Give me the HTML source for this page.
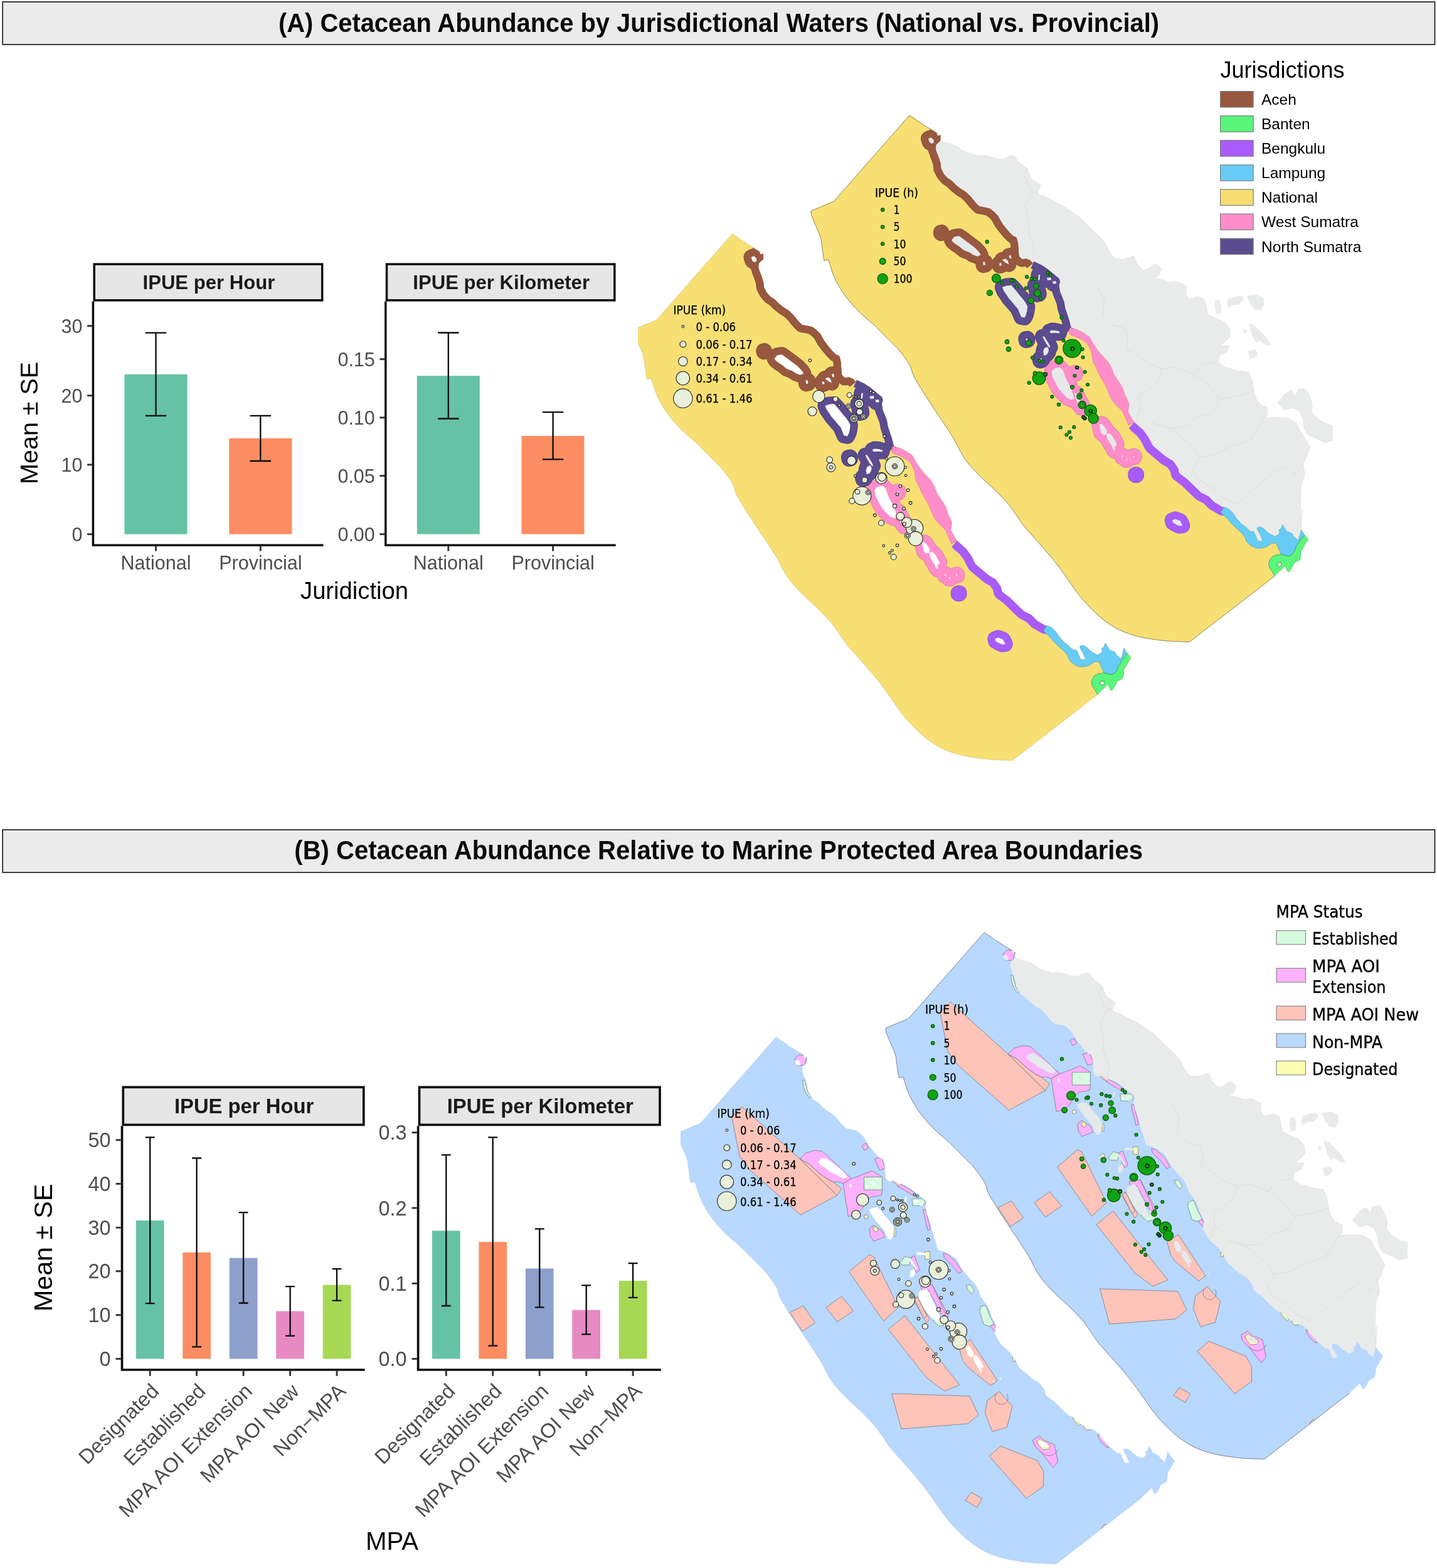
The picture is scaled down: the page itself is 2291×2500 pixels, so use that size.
<!DOCTYPE html>
<html lang="en"><head><meta charset="utf-8"><title>Cetacean Abundance</title>
<style>html,body{margin:0;padding:0;background:#fff}svg{display:block}text{white-space:pre}</style></head><body>
<svg xmlns="http://www.w3.org/2000/svg" width="2291" height="2500" viewBox="0 0 2291 2500">
<rect width="2291" height="2500" fill="#fff"/>
<rect x="4.2" y="3" width="2283.3" height="68" fill="#ebebeb" stroke="#111" stroke-width="1.6"/>
<text x="444" y="50.7" font-size="43" text-anchor="start" font-weight="bold" fill="#0a0a0a" font-family='"Liberation Sans", Arial, Helvetica, sans-serif' textLength="1404" lengthAdjust="spacingAndGlyphs">(A) Cetacean Abundance by Jurisdictional Waters (National vs. Provincial)</text>
<rect x="4.2" y="1323" width="2283.3" height="68" fill="#ebebeb" stroke="#111" stroke-width="1.6"/>
<text x="469.3" y="1369.7" font-size="43" text-anchor="start" font-weight="bold" fill="#0a0a0a" font-family='"Liberation Sans", Arial, Helvetica, sans-serif' textLength="1352.7" lengthAdjust="spacingAndGlyphs">(B) Cetacean Abundance Relative to Marine Protected Area Boundaries</text>
<defs>
<path id="sea" d="M1450 183.8L1329.4 321L1293 336.2L1293.6 343.4L1299.5 357.7L1306 372L1309.2 382.4L1311.2 398L1313.8 415.5L1320.9 414.2L1322.9 421.4C1323.8 424 1326.1 431.9 1328.1 436.9C1330 441.9 1332.2 446.6 1334.6 451.2C1337 455.8 1339.4 459.6 1342.4 464.2C1345.4 468.8 1349.3 474.2 1352.8 478.5C1356.3 482.8 1359.7 486.5 1363.2 490.2C1366.7 493.9 1370.1 497.4 1373.6 500.6C1377 503.9 1380.5 506.7 1383.9 509.7C1387.4 512.7 1390.8 515.5 1394.3 518.8C1397.8 522 1401.2 525.7 1404.7 529.2C1408.2 532.7 1411.6 536.1 1415.1 539.6C1418.6 543.1 1422.2 546.6 1425.5 550C1428.8 553.4 1430.4 554.6 1434.6 560C1438.8 565.4 1446.8 575.6 1450.5 582.3C1454.2 589 1453.2 592.7 1456.9 600C1460.6 607.3 1466.7 616.7 1472.5 626C1478.3 635.3 1485.7 646.4 1492 655.9C1498.3 665.4 1505 675.2 1510.2 683.2C1515.4 691.2 1519.7 698 1523.2 704C1526.7 710 1527.8 713.9 1531 719.5C1534.2 725.1 1538.4 732.1 1542.7 737.7C1547 743.3 1552.4 748.5 1556.9 753.3C1561.4 758.1 1565.6 762.2 1569.9 766.3C1574.2 770.4 1578.6 773.9 1582.9 778C1587.2 782.1 1591.6 786.5 1595.9 791C1600.2 795.5 1604.6 799.9 1608.9 805.3C1613.2 810.7 1617.8 817.7 1621.9 823.5C1626 829.3 1628.2 833.4 1633.6 840C1639 846.6 1647.5 855.7 1654.1 863.2C1660.7 870.7 1667.2 877.9 1673.1 884.9C1679 891.9 1683.9 898 1689.3 905.2C1694.7 912.4 1700.6 921.2 1705.6 928.2C1710.6 935.2 1714.1 940.8 1719.1 947.1C1724.1 953.4 1729.1 959.6 1735.4 966.1C1741.7 972.6 1748.9 980.1 1757 986.4C1765.1 992.7 1774.2 999.2 1784.1 1004C1794 1008.8 1804.4 1012.4 1816.6 1015.3C1828.8 1018.2 1843.9 1020.2 1857.2 1021.6C1870.5 1023 1889.9 1023.2 1896.4 1023.5L2032.3 918.4L2040.1 910.6L2043 908.6L2046 904.7L2048.9 902.8L2050.8 906.7L2052.8 911.6L2055.7 911.6L2059.6 905.7L2062.5 899.9L2065.5 896L2069.4 895L2072.8 892.1L2074.2 886.2L2074.2 879.4L2078.1 872.6L2082 865.8L2085.9 859.4L2080.1 853.1L2074.2 843.8L2072.8 850.2L2071.3 856L2069.4 860.9L2066.4 858L2062.5 855L2060.6 851.1L2055.7 848.2L2051.8 847.2L2048.9 842.4L2046 837.5L2044 836.5L2042.1 842.4L2038.2 845.3L2040.1 848.2L2038.2 852.1L2032.3 855L2026.5 852.1L2020.6 848.2L2015.8 843.3L2011.9 840.4L2007 839.4L2003.6 841.4L2005 846.3L2008 851.1L2010.9 857L2012.8 861.9L2008 862.8L2005 860.9L2002.1 854.1L1999.2 847.2L1994.3 847.2L1990.4 844.3L1984.6 838.5L1978.7 834.6L1973.9 828.7L1970 823.9L1966.1 818L1960.2 812.2L1955.3 809.2L1951 808.3L1951 808.3L1949.5 808.7L1936.2 801.1L1926.8 791.6L1915.4 785.9L1909.1 780L1892.9 764.2L1879.9 754.5L1878.2 746.4L1870.1 735L1858.8 728.5L1847.4 718.8L1837.6 710.6L1831.1 697.6L1823 686.3L1808.4 673.3L1808.4 673.3L1803.5 665.2L1798.7 656.2L1799.5 650.5L1800.3 644L1797.8 637.5L1793.5 629.4L1791.3 621.3L1787.3 613.2L1782.7 606.7L1776.2 596.9L1772.7 587.2L1767.5 577.5L1758.9 568.5L1749.9 558L1743.4 548.2L1736.9 536.8L1727.2 530.3L1717.5 525.2L1706.1 522.6L1709.4 525.1L1707 520.2L1704.6 510.4L1701.3 500.7L1698.1 491L1696.4 481.2L1693.2 473.1L1689.9 465L1688.3 455.2L1689.9 448.7L1688.3 443.9L1680.2 437.4L1670.4 429.2L1660.7 422.7L1648.5 417.1L1646.6 419.9L1642.5 415L1636 412.6L1629.5 413.4L1624.6 408.5L1623.8 398.8L1623 387.4L1620.6 378.5L1614.9 376L1608.4 369.5L1601.9 361.4L1597 354.9L1590.5 343.5L1584 337L1577.5 332.2L1569.4 330.5L1561.3 328.9L1554.8 322.4L1548.3 314.3L1540.2 306.2L1532.1 301.3L1523.9 294.8L1517.5 288.3L1510.1 283.4L1504.5 276.9L1500.4 268.8L1499.6 260.7L1497.1 252.6L1493.9 244.5L1491.5 237.1L1492.3 230.7L1499.1 224.2L1499.6 216L1473.6 199.8Z"/>
<clipPath id="seac"><use href="#sea"/></clipPath>
<g id="land"><path d="M1499.1 224.2 1504.5 226.6 1514.2 229 1525.6 233.1 1536.9 241.2 1548.3 245.3 1558.1 248.5 1571 247.7 1582.4 251 1590.5 253.4 1600.3 253.4 1608.4 249.3 1615.7 247.7 1619.8 252.6 1624.6 259.1 1631.1 263.9 1637.6 268.8 1640.9 276.9 1644.1 285.1 1650.6 289.9 1658.8 294.8 1657.1 301.3 1653.9 306.2 1657.1 311 1665.2 312.7 1673.4 317.5 1683.1 322.4 1692.9 327.3 1702.6 333.8 1712.4 340.3 1720 345.2 1750 374.4 1760.8 385.2 1768.9 401.4 1777.1 412.3 1790.6 413.6 1798.7 410.9 1808.2 408.2 1812.3 420.4 1823.1 431.2 1831.2 428.5 1842 420.4 1851.5 428.5 1847.5 439.3 1839.3 443.4 1852.9 446.1 1863.7 450.2 1877.2 448.8 1890.8 455.6 1890.8 469.1 1896.2 477.2 1909.7 473.2 1920.5 477.2 1923.3 490.8 1926 501.6 1936.8 507 1950.3 512.4 1959.8 523.3 1961.2 536.8 1953 544.9 1944.9 550.3 1959.8 551.7 1955.7 561.2 1944.9 566.6 1942.2 577.4 1953 585.5 1972 590.9 1990.9 593.6 1996.3 607.2 1999.1 623.4 2003.1 637 2009.9 645.1 2020.7 650.5 2020.7 661.3 2015.3 666.7 2034.2 665.4 2053.2 666.7 2066.7 674.9 2072.1 685.7 2080.3 699.2 2088.4 712.8 2083 729 2077.6 739.8 2080.3 756.1 2074.9 772.3 2073.5 794 2073.5 815.6 2073.5 837.3 2076.2 812.2 2075.2 826.8 2074.2 843.8 2074.2 843.8 2072.8 850.2 2071.3 856 2069.4 860.9 2066.4 858 2062.5 855 2060.6 851.1 2055.7 848.2 2051.8 847.2 2048.9 842.4 2046 837.5 2044 836.5 2042.1 842.4 2038.2 845.3 2040.1 848.2 2038.2 852.1 2032.3 855 2026.5 852.1 2020.6 848.2 2015.8 843.3 2011.9 840.4 2007 839.4 2003.6 841.4 2005 846.3 2008 851.1 2010.9 857 2012.8 861.9 2008 862.8 2005 860.9 2002.1 854.1 1999.2 847.2 1994.3 847.2 1990.4 844.3 1984.6 838.5 1978.7 834.6 1973.9 828.7 1970 823.9 1966.1 818 1960.2 812.2 1955.3 809.2 1951 808.3 1951 808.3 1949.5 808.7 1936.2 801.1 1926.8 791.6 1915.4 785.9 1909.1 780 1892.9 764.2 1879.9 754.5 1878.2 746.4 1870.1 735 1858.8 728.5 1847.4 718.8 1837.6 710.6 1831.1 697.6 1823 686.3 1808.4 673.3 1808.4 673.3 1803.5 665.2 1798.7 656.2 1799.5 650.5 1800.3 644 1797.8 637.5 1793.5 629.4 1791.3 621.3 1787.3 613.2 1782.7 606.7 1776.2 596.9 1772.7 587.2 1767.5 577.5 1758.9 568.5 1749.9 558 1743.4 548.2 1736.9 536.8 1727.2 530.3 1717.5 525.2 1706.1 522.6 1709.4 525.1 1707 520.2 1704.6 510.4 1701.3 500.7 1698.1 491 1696.4 481.2 1693.2 473.1 1689.9 465 1688.3 455.2 1689.9 448.7 1688.3 443.9 1680.2 437.4 1670.4 429.2 1660.7 422.7 1648.5 417.1 1646.6 419.9 1642.5 415 1636 412.6 1629.5 413.4 1624.6 408.5 1623.8 398.8 1623 387.4 1620.6 378.5 1614.9 376 1608.4 369.5 1601.9 361.4 1597 354.9 1590.5 343.5 1584 337 1577.5 332.2 1569.4 330.5 1561.3 328.9 1554.8 322.4 1548.3 314.3 1540.2 306.2 1532.1 301.3 1523.9 294.8 1517.5 288.3 1510.1 283.4 1504.5 276.9 1500.4 268.8 1499.6 260.7 1497.1 252.6 1493.9 244.5 1491.5 237.1 1492.3 230.7 1499.1 224.2Z" fill="#e9ebea"/>
<path d="M2037 642.4 2047.8 628.8 2058.6 622.1 2065.4 631.5 2069.4 620.7 2080.3 619.4 2088.4 631.5 2092.4 645.1 2091.1 655.9 2099.2 666.7 2112.8 674.9 2124.9 678.9 2123.6 693.8 2124.9 701.9 2112.8 706 2099.2 699.2 2085.7 693.8 2078.9 683 2077.6 669.4 2072.1 655.9 2061.3 650.5 2047.8 653.2Z" fill="#e9ebea" stroke="#dcdedd" stroke-width="0.6"/>
<path d="M1936.8 479.9 1943.6 477.2 1947.6 488.1 1946.3 498.9 1939.5 501.6 1936.8 490.8Z M1957.1 477.2 1966.6 473.2 1980.1 471.8 1982.8 478.6 1974.7 485.4 1963.9 486.7 1958.4 490.8 1955.7 485.4Z M1988.2 471.8 2001.8 469.1 2013.9 474.5 2015.3 485.4 2009.9 494.8 2000.4 493.5 1993.6 485.4Z M1990.9 515.1 1999.1 517.8 2009.9 528.7 2020.7 539.5 2026.1 551.7 2018 550.3 2007.2 542.2 2004.5 547.6 1997.7 539.5 1993.6 526Z M1989.6 559.8 2001.8 557.1 2005.8 563.9 2000.4 570.6 1992.3 572Z M1981.5 523.3 1988.2 526 1986.9 531.4 1982.8 530Z" fill="#e9ebea"/>
<path d="M1637.6 268.8 1632.8 280.2 1637.6 289.9 1640.9 299.7 1647.4 306.2 1653.9 306.2 M1647.4 306.2 1640.9 315.9 1634.4 328.9 1637.6 341.9 1640.9 354.9 1639.3 369.5 1644.1 384.1 1649 395.5 1646.6 410.1 1646.6 419.9 M1750 458.3 1760.8 477.2 1758.1 501.6 1771.7 517.8 1793.3 523.3 1798.7 539.5 1796 555.7 1815 566.6 1831.2 580.1 1852.9 588.2 1874.5 585.5 1901.6 596.3 1917.8 580.1 1939.5 577.4 M1852.9 588.2 1847.5 607.2 1831.2 620.7 1815 631.5 1817.7 650.5 1812.3 669.4 1804.1 677.6 M1817.7 650.5 1839.3 674.9 1866.4 683 1885.4 699.2 1901.6 712.8 1912.4 729 1901.6 747.9 1907 761.5 1923.3 772.3 1939.5 783.1 1950.3 794 M1901.6 596.3 1923.3 609.9 1944.9 637 1972 631.5 1999.1 623.4 M1944.9 637 1931.4 658.6 1909.7 664 1890.8 680.3 1866.4 683 M1912.4 729 1939.5 723.6 1966.6 710 1993.6 701.9 2015.3 666.7 M1950.3 794 1972 804.8 1993.6 783.1 2020.7 761.5 2047.8 742.5 2064 756.1 2077.6 739.8" fill="none" stroke="#d9dbda" stroke-width="0.9" stroke-linejoin="round"/>
<path d="M1499.1 224.2 1504.5 226.6 1514.2 229 1525.6 233.1 1536.9 241.2 1548.3 245.3 1558.1 248.5 1571 247.7 1582.4 251 1590.5 253.4 1600.3 253.4 1608.4 249.3 1615.7 247.7 1619.8 252.6 1624.6 259.1 1631.1 263.9 1637.6 268.8 1640.9 276.9 1644.1 285.1 1650.6 289.9 1658.8 294.8 1657.1 301.3 1653.9 306.2 1657.1 311 1665.2 312.7 1673.4 317.5 1683.1 322.4 1692.9 327.3 1702.6 333.8 1712.4 340.3 1720 345.2 1750 374.4 1760.8 385.2 1768.9 401.4 1777.1 412.3 1790.6 413.6 1798.7 410.9 1808.2 408.2 1812.3 420.4 1823.1 431.2 1831.2 428.5 1842 420.4 1851.5 428.5 1847.5 439.3 1839.3 443.4 1852.9 446.1 1863.7 450.2 1877.2 448.8 1890.8 455.6 1890.8 469.1 1896.2 477.2 1909.7 473.2 1920.5 477.2 1923.3 490.8 1926 501.6 1936.8 507 1950.3 512.4 1959.8 523.3 1961.2 536.8 1953 544.9 1944.9 550.3 1959.8 551.7 1955.7 561.2 1944.9 566.6 1942.2 577.4 1953 585.5 1972 590.9 1990.9 593.6 1996.3 607.2 1999.1 623.4 2003.1 637 2009.9 645.1 2020.7 650.5 2020.7 661.3 2015.3 666.7 2034.2 665.4 2053.2 666.7 2066.7 674.9 2072.1 685.7 2080.3 699.2 2088.4 712.8 2083 729 2077.6 739.8 2080.3 756.1 2074.9 772.3 2073.5 794 2073.5 815.6 2073.5 837.3 2076.2 812.2 2075.2 826.8 2074.2 843.8" fill="none" stroke="#dfe1e0" stroke-width="0.8"/>
</g>
<path id="isl" d="M1480.1 220.9 1484.2 219.3 1488.2 222.5 1489 227.4 1485 229 1481.7 226.6Z M1493.1 212.8 1497.1 212 1498.8 215.2 1495.5 216.8Z M1517.1 382.8 1521.5 377.4 1529 376.3 1536.6 381.7 1545.3 388.2 1554 394.7 1560.4 401.2 1563.7 406.6 1558.3 408.8 1551.8 406.6 1545.3 402.3 1536.6 399.1 1530.1 393.6 1523.6 389.3 1519.3 386.1Z M1567 417.4 1570.2 417.4 1571 422.3 1567.8 423.1Z M1593 419.9 1596.2 419.1 1597 423.1 1593.8 423.9Z M1597.8 414.2 1603.5 412.6 1606.8 415.8 1608.4 421.5 1605.2 419.9 1601.1 417.4Z M1608.4 407.7 1611.7 406.9 1612.5 411.7 1610 412.6Z M1598 458.1 1604.8 455.5 1612.4 455.1 1617 460.1 1621.5 465.4 1626.1 471.4 1631.4 477.5 1635.1 482.8 1638.2 488.4 1637.4 495.7 1635.9 501.8 1633.6 506.6 1628.3 505.6 1625.3 498.7 1623 492.7 1618.5 487.4 1613.9 482.1 1608.6 476 1604.1 469.2 1600.3 463.9Z M1650.1 454.4 1653.4 453.6 1654.2 457.7 1651 458.5Z M1652.6 465.8 1655.8 465 1656.6 469 1653.4 469.8Z M1655.8 438.2 1658.3 437.4 1657.5 446.3 1655 447.1Z M1668.8 443 1675.3 442.2 1676.1 446.3 1670.4 447.1Z M1677.8 448.7 1683.4 447.9 1684.2 452 1679.4 452.8Z M1673.3 528.1 1677 526.6 1683.3 527.1 1689.5 528.7 1688.9 531.2 1682 530.8 1675.2 531.2Z M1662.1 536.8 1664.6 536.2 1668.3 541.8 1672.1 548 1674.5 553.6 1672.7 554.2 1668.9 549.2 1665.2 543Z M1664.6 555.5 1669.6 553 1672.1 556.7 1671.4 561.7 1668.3 566 1664 566.7 1663.3 560.4Z M1635.5 540 1638 539.7 1638.3 542.6 1636 542.9Z M1657.5 572.2 1660.7 571.3 1661.5 574.6 1658.3 575.4Z M1676.8 592.1 1681.7 587.2 1689.8 585.6 1694.7 590.4 1698 600.2 1702.8 609.9 1707.7 619.7 1711 629.4 1712.6 635.9 1707.7 637.5 1701.2 634.3 1693.1 626.2 1686.6 618.1 1681.7 608.3 1677.7 600.2Z M1712.8 594.6 1714.7 594.4 1715 596.5 1713.1 596.8Z M1712.6 626.2 1715.8 627 1719.1 634.3 1723.9 642.4 1727.2 650.5 1723.9 650.5 1719.1 644 1715 635.9Z M1752.4 676.2 1756.7 675.6 1761.1 680.6 1764.8 686.8 1764.2 692.4 1759.9 693.7 1755.5 690.6 1753.6 683.1Z M1764.2 692.4 1768.6 690.6 1773.6 695.5 1777.3 701.8 1780.4 708 1779.8 711.7 1776.7 710.5 1777.9 715.5 1777.3 719.2 1774.8 716.7 1772.3 710.5 1768.6 705.5 1765.5 699.3Z M1788.4 726.8 1790.3 726.4 1790.7 728.7 1788.8 729.1Z M1795.4 731.7 1797.3 731.3 1797.7 733.6 1795.8 734Z M1806.4 727.2 1808.3 726.8 1808.7 729.1 1806.8 729.4Z M1869 829.5 1873.7 827.6 1881.3 830.4 1884.1 835.2 1885.1 838 1880.3 838.6 1876.5 837.1 1869.9 833.3Z"/>
<path id="edge" d="M1499.6 216L1473.6 199.8L1450 183.8L1329.4 321L1293 336.2L1293.6 343.4L1299.5 357.7L1306 372L1309.2 382.4L1311.2 398L1313.8 415.5L1320.9 414.2L1322.9 421.4C1323.8 424 1326.1 431.9 1328.1 436.9C1330 441.9 1332.2 446.6 1334.6 451.2C1337 455.8 1339.4 459.6 1342.4 464.2C1345.4 468.8 1349.3 474.2 1352.8 478.5C1356.3 482.8 1359.7 486.5 1363.2 490.2C1366.7 493.9 1370.1 497.4 1373.6 500.6C1377 503.9 1380.5 506.7 1383.9 509.7C1387.4 512.7 1390.8 515.5 1394.3 518.8C1397.8 522 1401.2 525.7 1404.7 529.2C1408.2 532.7 1411.6 536.1 1415.1 539.6C1418.6 543.1 1422.2 546.6 1425.5 550C1428.8 553.4 1430.4 554.6 1434.6 560C1438.8 565.4 1446.8 575.6 1450.5 582.3C1454.2 589 1453.2 592.7 1456.9 600C1460.6 607.3 1466.7 616.7 1472.5 626C1478.3 635.3 1485.7 646.4 1492 655.9C1498.3 665.4 1505 675.2 1510.2 683.2C1515.4 691.2 1519.7 698 1523.2 704C1526.7 710 1527.8 713.9 1531 719.5C1534.2 725.1 1538.4 732.1 1542.7 737.7C1547 743.3 1552.4 748.5 1556.9 753.3C1561.4 758.1 1565.6 762.2 1569.9 766.3C1574.2 770.4 1578.6 773.9 1582.9 778C1587.2 782.1 1591.6 786.5 1595.9 791C1600.2 795.5 1604.6 799.9 1608.9 805.3C1613.2 810.7 1617.8 817.7 1621.9 823.5C1626 829.3 1628.2 833.4 1633.6 840C1639 846.6 1647.5 855.7 1654.1 863.2C1660.7 870.7 1667.2 877.9 1673.1 884.9C1679 891.9 1683.9 898 1689.3 905.2C1694.7 912.4 1700.6 921.2 1705.6 928.2C1710.6 935.2 1714.1 940.8 1719.1 947.1C1724.1 953.4 1729.1 959.6 1735.4 966.1C1741.7 972.6 1748.9 980.1 1757 986.4C1765.1 992.7 1774.2 999.2 1784.1 1004C1794 1008.8 1804.4 1012.4 1816.6 1015.3C1828.8 1018.2 1843.9 1020.2 1857.2 1021.6C1870.5 1023 1889.9 1023.2 1896.4 1023.5L2032.3 918.4" fill="none"/>
<g id="bandsA" clip-path="url(#seac)" fill="none" stroke-width="22.8" stroke-linejoin="round" stroke-linecap="butt">
<path d="M1499.1 224.2 1492.3 230.7 1491.5 237.1 1493.9 244.5 1497.1 252.6 1499.6 260.7 1500.4 268.8 1504.5 276.9 1510.1 283.4 1517.5 288.3 1523.9 294.8 1532.1 301.3 1540.2 306.2 1548.3 314.3 1554.8 322.4 1561.3 328.9 1569.4 330.5 1577.5 332.2 1584 337 1590.5 343.5 1597 354.9 1601.9 361.4 1608.4 369.5 1614.9 376 1620.6 378.5 1623 387.4 1623.8 398.8 1624.6 408.5 1629.5 413.4 1636 412.6 1642.5 415 1646.6 419.9 M1480.1 220.9 1484.2 219.3 1488.2 222.5 1489 227.4 1485 229 1481.7 226.6Z M1493.1 212.8 1497.1 212 1498.8 215.2 1495.5 216.8Z M1517.1 382.8 1521.5 377.4 1529 376.3 1536.6 381.7 1545.3 388.2 1554 394.7 1560.4 401.2 1563.7 406.6 1558.3 408.8 1551.8 406.6 1545.3 402.3 1536.6 399.1 1530.1 393.6 1523.6 389.3 1519.3 386.1Z M1499.9 370.5 1501.2 370.2 1501.5 371.8 1500.2 372.1Z M1567 417.4 1570.2 417.4 1571 422.3 1567.8 423.1Z M1593 419.9 1596.2 419.1 1597 423.1 1593.8 423.9Z M1597.8 414.2 1603.5 412.6 1606.8 415.8 1608.4 421.5 1605.2 419.9 1601.1 417.4Z M1608.4 407.7 1611.7 406.9 1612.5 411.7 1610 412.6Z" stroke="#7a4632" stroke-width="24.2"/>
<path d="M1648.5 417.1 1660.7 422.7 1670.4 429.2 1680.2 437.4 1688.3 443.9 1689.9 448.7 1688.3 455.2 1689.9 465 1693.2 473.1 1696.4 481.2 1698.1 491 1701.3 500.7 1704.6 510.4 1707 520.2 1709.4 525.1 M1598 458.1 1604.8 455.5 1612.4 455.1 1617 460.1 1621.5 465.4 1626.1 471.4 1631.4 477.5 1635.1 482.8 1638.2 488.4 1637.4 495.7 1635.9 501.8 1633.6 506.6 1628.3 505.6 1625.3 498.7 1623 492.7 1618.5 487.4 1613.9 482.1 1608.6 476 1604.1 469.2 1600.3 463.9Z M1650.1 454.4 1653.4 453.6 1654.2 457.7 1651 458.5Z M1652.6 465.8 1655.8 465 1656.6 469 1653.4 469.8Z M1655.8 438.2 1658.3 437.4 1657.5 446.3 1655 447.1Z M1668.8 443 1675.3 442.2 1676.1 446.3 1670.4 447.1Z M1677.8 448.7 1683.4 447.9 1684.2 452 1679.4 452.8Z M1673.3 528.1 1677 526.6 1683.3 527.1 1689.5 528.7 1688.9 531.2 1682 530.8 1675.2 531.2Z M1662.1 536.8 1664.6 536.2 1668.3 541.8 1672.1 548 1674.5 553.6 1672.7 554.2 1668.9 549.2 1665.2 543Z M1664.6 555.5 1669.6 553 1672.1 556.7 1671.4 561.7 1668.3 566 1664 566.7 1663.3 560.4Z M1635.5 540 1638 539.7 1638.3 542.6 1636 542.9Z M1657.5 572.2 1660.7 571.3 1661.5 574.6 1658.3 575.4Z" stroke="#4a3c78" stroke-width="24.2"/>
<path d="M1676.8 592.1 1681.7 587.2 1689.8 585.6 1694.7 590.4 1698 600.2 1702.8 609.9 1707.7 619.7 1711 629.4 1712.6 635.9 1707.7 637.5 1701.2 634.3 1693.1 626.2 1686.6 618.1 1681.7 608.3 1677.7 600.2Z M1712.8 594.6 1714.7 594.4 1715 596.5 1713.1 596.8Z M1712.6 626.2 1715.8 627 1719.1 634.3 1723.9 642.4 1727.2 650.5 1723.9 650.5 1719.1 644 1715 635.9Z M1752.4 676.2 1756.7 675.6 1761.1 680.6 1764.8 686.8 1764.2 692.4 1759.9 693.7 1755.5 690.6 1753.6 683.1Z M1764.2 692.4 1768.6 690.6 1773.6 695.5 1777.3 701.8 1780.4 708 1779.8 711.7 1776.7 710.5 1777.9 715.5 1777.3 719.2 1774.8 716.7 1772.3 710.5 1768.6 705.5 1765.5 699.3Z M1788.4 726.8 1790.3 726.4 1790.7 728.7 1788.8 729.1Z M1795.4 731.7 1797.3 731.3 1797.7 733.6 1795.8 734Z M1806.4 727.2 1808.3 726.8 1808.7 729.1 1806.8 729.4Z" stroke="#cf78a6" stroke-width="24.2"/>
<path d="M1808.4 673.3 1823 686.3 1831.1 697.6 1837.6 710.6 1847.4 718.8 1858.8 728.5 1870.1 735 1878.2 746.4 1879.9 754.5 1892.9 764.2 1909.1 780 1915.4 785.9 1926.8 791.6 1936.2 801.1 1949.5 808.7 1951 808.3 M1810.4 756.4 1811.9 756.4 1811.9 757.9 1810.4 757.9Z M1869 829.5 1873.7 827.6 1881.3 830.4 1884.1 835.2 1885.1 838 1880.3 838.6 1876.5 837.1 1869.9 833.3Z" stroke="#8a48d0" stroke-width="24.2"/>
<path d="M1499.1 224.2 1492.3 230.7 1491.5 237.1 1493.9 244.5 1497.1 252.6 1499.6 260.7 1500.4 268.8 1504.5 276.9 1510.1 283.4 1517.5 288.3 1523.9 294.8 1532.1 301.3 1540.2 306.2 1548.3 314.3 1554.8 322.4 1561.3 328.9 1569.4 330.5 1577.5 332.2 1584 337 1590.5 343.5 1597 354.9 1601.9 361.4 1608.4 369.5 1614.9 376 1620.6 378.5 1623 387.4 1623.8 398.8 1624.6 408.5 1629.5 413.4 1636 412.6 1642.5 415 1646.6 419.9" stroke="#98583f"/>
<path d="M1480.1 220.9 1484.2 219.3 1488.2 222.5 1489 227.4 1485 229 1481.7 226.6Z M1493.1 212.8 1497.1 212 1498.8 215.2 1495.5 216.8Z M1517.1 382.8 1521.5 377.4 1529 376.3 1536.6 381.7 1545.3 388.2 1554 394.7 1560.4 401.2 1563.7 406.6 1558.3 408.8 1551.8 406.6 1545.3 402.3 1536.6 399.1 1530.1 393.6 1523.6 389.3 1519.3 386.1Z M1499.9 370.5 1501.2 370.2 1501.5 371.8 1500.2 372.1Z M1567 417.4 1570.2 417.4 1571 422.3 1567.8 423.1Z M1593 419.9 1596.2 419.1 1597 423.1 1593.8 423.9Z M1597.8 414.2 1603.5 412.6 1606.8 415.8 1608.4 421.5 1605.2 419.9 1601.1 417.4Z M1608.4 407.7 1611.7 406.9 1612.5 411.7 1610 412.6Z" stroke="#98583f" fill="#98583f"/>
<path d="M1648.5 417.1 1660.7 422.7 1670.4 429.2 1680.2 437.4 1688.3 443.9 1689.9 448.7 1688.3 455.2 1689.9 465 1693.2 473.1 1696.4 481.2 1698.1 491 1701.3 500.7 1704.6 510.4 1707 520.2 1709.4 525.1" stroke="#5b4b8f"/>
<path d="M1598 458.1 1604.8 455.5 1612.4 455.1 1617 460.1 1621.5 465.4 1626.1 471.4 1631.4 477.5 1635.1 482.8 1638.2 488.4 1637.4 495.7 1635.9 501.8 1633.6 506.6 1628.3 505.6 1625.3 498.7 1623 492.7 1618.5 487.4 1613.9 482.1 1608.6 476 1604.1 469.2 1600.3 463.9Z M1650.1 454.4 1653.4 453.6 1654.2 457.7 1651 458.5Z M1652.6 465.8 1655.8 465 1656.6 469 1653.4 469.8Z M1655.8 438.2 1658.3 437.4 1657.5 446.3 1655 447.1Z M1668.8 443 1675.3 442.2 1676.1 446.3 1670.4 447.1Z M1677.8 448.7 1683.4 447.9 1684.2 452 1679.4 452.8Z M1673.3 528.1 1677 526.6 1683.3 527.1 1689.5 528.7 1688.9 531.2 1682 530.8 1675.2 531.2Z M1662.1 536.8 1664.6 536.2 1668.3 541.8 1672.1 548 1674.5 553.6 1672.7 554.2 1668.9 549.2 1665.2 543Z M1664.6 555.5 1669.6 553 1672.1 556.7 1671.4 561.7 1668.3 566 1664 566.7 1663.3 560.4Z M1635.5 540 1638 539.7 1638.3 542.6 1636 542.9Z M1657.5 572.2 1660.7 571.3 1661.5 574.6 1658.3 575.4Z" stroke="#5b4b8f" fill="#5b4b8f"/>
<path d="M1706.1 522.6 1717.5 525.2 1727.2 530.3 1736.9 536.8 1743.4 548.2 1749.9 558 1758.9 568.5 1767.5 577.5 1772.7 587.2 1776.2 596.9 1782.7 606.7 1787.3 613.2 1791.3 621.3 1793.5 629.4 1797.8 637.5 1800.3 644 1799.5 650.5 1798.7 656.2 1803.5 665.2 1808.4 673.3 1799.5 677.8 1794.6 666.8 1789.7 656.2 1784.4 650.5 1779.2 645.7 1774.3 640 1771 634.3 1766.7 624.6 1762.6 614.8 1756.4 604.2 1750.7 593.7 1746.7 583.9 1742.6 577.5 1742.1 571.8 1740.2 561.2 1736.1 552.3 1732.1 546.6 1723.9 540.9 1714.2 536.8 1706.1 533.6 1703.6 528.7Z" fill="#ff8dc9" stroke="#cf78a6" stroke-width="0.7"/>
<path d="M1676.8 592.1 1681.7 587.2 1689.8 585.6 1694.7 590.4 1698 600.2 1702.8 609.9 1707.7 619.7 1711 629.4 1712.6 635.9 1707.7 637.5 1701.2 634.3 1693.1 626.2 1686.6 618.1 1681.7 608.3 1677.7 600.2Z M1712.8 594.6 1714.7 594.4 1715 596.5 1713.1 596.8Z M1712.6 626.2 1715.8 627 1719.1 634.3 1723.9 642.4 1727.2 650.5 1723.9 650.5 1719.1 644 1715 635.9Z M1752.4 676.2 1756.7 675.6 1761.1 680.6 1764.8 686.8 1764.2 692.4 1759.9 693.7 1755.5 690.6 1753.6 683.1Z M1764.2 692.4 1768.6 690.6 1773.6 695.5 1777.3 701.8 1780.4 708 1779.8 711.7 1776.7 710.5 1777.9 715.5 1777.3 719.2 1774.8 716.7 1772.3 710.5 1768.6 705.5 1765.5 699.3Z M1788.4 726.8 1790.3 726.4 1790.7 728.7 1788.8 729.1Z M1795.4 731.7 1797.3 731.3 1797.7 733.6 1795.8 734Z M1806.4 727.2 1808.3 726.8 1808.7 729.1 1806.8 729.4Z" stroke="#ff8dc9" fill="#ff8dc9"/>
<path d="M1808.4 673.3 1823 686.3 1831.1 697.6 1837.6 710.6 1847.4 718.8 1858.8 728.5 1870.1 735 1878.2 746.4 1879.9 754.5 1892.9 764.2 1909.1 780 1915.4 785.9 1926.8 791.6 1936.2 801.1 1949.5 808.7 1951 808.3" stroke="#a95bfb" stroke-width="26.5"/>
<path d="M1810.4 756.4 1811.9 756.4 1811.9 757.9 1810.4 757.9Z M1869 829.5 1873.7 827.6 1881.3 830.4 1884.1 835.2 1885.1 838 1880.3 838.6 1876.5 837.1 1869.9 833.3Z" stroke="#a95bfb" fill="#a95bfb"/>
<path d="M1946.1 817 1952.4 822.9 1958.3 828.7 1963.1 834.6 1969 840.4 1975.8 846.3 1980.7 851.1 1984.6 856 1986.5 861.9 1990.4 866.7 1996.3 871.1 2003.1 874 2010.9 874 2017.7 872.6 2022.6 869.7 2027.5 866.2 2032.3 865.8 2035.7 867.7 2037.2 872.6 2040.1 878.4 2042.1 883.8 2049.9 885.7 2054.7 886.7 2059.6 884.3 2063 880.4 2066.4 871.6 2071.3 863.8 2076.2 857 2080.1 853.1 2074.2 843.8 2072.8 850.2 2071.3 856 2069.4 860.9 2066.4 858 2062.5 855 2060.6 851.1 2055.7 848.2 2051.8 847.2 2048.9 842.4 2046 837.5 2044 836.5 2042.1 842.4 2038.2 845.3 2040.1 848.2 2038.2 852.1 2032.3 855 2026.5 852.1 2020.6 848.2 2015.8 843.3 2011.9 840.4 2007 839.4 2003.6 841.4 2005 846.3 2008 851.1 2010.9 857 2012.8 861.9 2008 862.8 2005 860.9 2002.1 854.1 1999.2 847.2 1994.3 847.2 1990.4 844.3 1984.6 838.5 1978.7 834.6 1973.9 828.7 1970 823.9 1966.1 818 1960.2 812.2 1955.3 809.2 1951 808.3Z" fill="#66ccf6" stroke="#4a88a6" stroke-width="0.6"/>
<path d="M2032.3 918.4 2040.1 910.6 2043 908.6 2046 904.7 2048.9 902.8 2050.8 906.7 2052.8 911.6 2055.7 911.6 2059.6 905.7 2062.5 899.9 2065.5 896 2069.4 895 2072.8 892.1 2074.2 886.2 2074.2 879.4 2078.1 872.6 2082 865.8 2085.9 859.4 2080.1 853.1 2076.2 857 2071.3 863.8 2066.4 871.6 2063 880.4 2059.6 884.3 2054.7 886.7 2049.9 885.7 2042.1 883.8 2040.1 884.3 2033.3 885.3 2027.5 888.2 2023.6 894 2022.6 899.9 2024.5 905.7 2028.4 911.6 2032.3 918.4Z" fill="#5af67c" stroke="#3c8a52" stroke-width="0.7"/>
<path d="M2037.2 897.4 2042.1 896.9 2043 900.8 2040.1 903.3 2036.7 901.8Z" fill="#fff" stroke="#2c5a38" stroke-width="0.7"/>
</g>
<g id="mpaB" clip-path="url(#seac)" stroke="#6b6b78" stroke-width="0.7" stroke-linejoin="round">
<path d="M1379.6 311.4 1395.9 294.6 1487.9 377.7 1547.4 435.9 1489.2 467.1 1408 395.3 1391.8 373.7Z" fill="#fec4ba"/>
<path d="M1487.9 377.7 1502.8 385.8 1519 400.7 1532.6 410.2 1540.7 414.3 1554.2 425.1 1547.4 435.9Z" fill="#fec4ba"/>
<path d="M1487.9 377.7 1497.4 368.3 1510.9 364.2 1523.1 365.5 1532.6 373.7 1547.4 387.2 1562.3 402.1 1570.5 408.9 1556.9 417 1548.8 414.3 1540.7 414.3 1532.6 410.2 1519 400.7 1502.8 385.8Z" fill="#fcb1fc"/>
<path d="M1556.9 417 1570.5 408.9 1578.6 406.2 1602.9 396.7 1619.2 406.2 1619.2 427.8 1617.8 435.9 1600.2 438.6 1592.1 449.5 1586.7 457.6 1578.6 465.7 1565 469.8Z" fill="#fcb1fc"/>
<path d="M1590.2 406.7 1619.2 406.7 1619.2 427 1590.2 427Z" fill="#d5fbe0"/>
<path d="M1586.7 356.1 1593.5 352.6 1597.5 360.1 1590.8 364.2Z" fill="#fcb1fc"/>
<path d="M1607 377.7 1617.8 375 1624.6 392.6 1615.1 395.9Z" fill="#fcb1fc"/>
<path d="M1635.4 412.9 1642.2 411 1647.6 418.3 1644.9 421.9Z" fill="#fec4ba"/>
<path d="M1646.3 417 1659.8 423.7 1670.6 431.9 1667.9 435.9 1657.1 429.2 1644.9 421.9Z" fill="#fcb1fc"/>
<path d="M1666.6 441.3 1685.5 441.3 1688.2 448.1 1681.4 452.7 1667.9 452.2Z" fill="#d5fbe0"/>
<path d="M1684.2 458.9 1688.2 458.1 1696.3 490.1 1691.7 491.4Z" fill="#fcb1fc"/>
<path d="M1598.9 488.7 1605.7 483.3 1619.2 492.8 1623.2 502.3 1605.7 509 1600.2 500.9Z" fill="#fcb1fc"/>
<path d="M1604.3 487.9 1609.7 485.2 1613.2 491.4 1607.8 494.4Z" fill="#fefeb3"/>
<path d="M1590.2 467.9 1595.4 466.5 1596.7 471.7 1591.6 473Z" fill="#fefeb3"/>
<path d="M1638.1 488.7 1640.8 488.7 1640.8 500.9 1638.1 500.9Z" fill="#fefeb3"/>
<path d="M1647.6 542.9 1655.7 533.4 1665.2 536.1 1662.5 546.9 1651.7 546.9Z" fill="#d5fbe0"/>
<path d="M1686.9 525.8 1695 525.3 1695.5 537.4 1687.7 538Z" fill="#fefeb3"/>
<path d="M1635.4 538.8 1640.3 536.1 1642.7 541 1637.6 543.7Z" fill="#fefeb3"/>
<path d="M1665.2 534.7 1670.6 532 1679.3 555 1673.3 559.1 1667.9 546.9Z" fill="#fcb1fc"/>
<path d="M1716.6 528 1724.8 530.7 1738.3 544.2 1746.4 557.7 1741 560.5 1730.2 546.9 1718 534.7Z" fill="#fcb1fc"/>
<path d="M1566.4 557.7 1598.9 530.1 1605.7 533.9 1644.9 614.6 1621.4 636.3Z" fill="#fec4ba"/>
<path d="M1529.9 614.6 1554.2 597 1573.2 620 1547.4 637.6Z" fill="#fec4ba"/>
<path d="M1471.7 622.7 1493.3 611.9 1512.3 639 1492 652.5Z" fill="#fec4ba"/>
<path d="M1669.3 602.4 1674.7 597 1695 633.5 1689.6 639Z" fill="#fec4ba"/>
<path d="M1681.4 582.7 1699 578.1 1724.8 628.1 1719.3 633.5 1697.7 587.5 1684.2 590.2Z" fill="#fcb1fc"/>
<path d="M1628.8 649.4 1655.3 627.8 1742.5 738 1718.9 748 1690.5 727.1Z" fill="#fec4ba"/>
<path d="M1670.2 601.2 1675.6 598 1690.5 628.3 1685.1 631.6Z" fill="#fec4ba"/>
<path d="M1741.4 677 1759.5 665.7 1802.9 731.2 1792 739.3 1755.5 709.5 1747.4 698.7Z" fill="#fec4ba"/>
<path d="M1634.3 751.9 1758.4 756 1772.5 785.5 1755.8 800 1649.7 808.2Z" fill="#fec4ba"/>
<path d="M1805.6 748.4 1826.6 771.8 1818.4 805.4 1794.8 812.5 1783.3 783.7 1786.5 763.2Z" fill="#fec4ba"/>
<path d="M1808.2 835.7 1866.7 859.1 1876.4 875.8 1876.4 899.6 1849.3 919.1 1789.8 851.5Z" fill="#fec4ba"/>
<path d="M1761 909.3 1778.3 919.1 1770.3 933.2 1751.9 922.3Z" fill="#fec4ba"/>
<path d="M1859.1 826 1869.9 819.5 1878.6 827 1893.7 833.1 1899.2 860.6 1891.6 869.9 1875.3 848.7 1862.3 835.7Z" fill="#fcb1fc"/>
<path d="M1865.6 828.1 1871 823.8 1877.9 829.2 1887.2 834.6 1885.1 840.5 1874.9 841.1 1868.8 834Z" fill="#fefeb3"/>
<path d="M1921.9 788.1 1927.3 790.2 1936 801.1 1932.7 802.8 1925.1 794.6Z" fill="#fefeb3"/>
<path d="M1939.2 803.7 1946.8 804.7 1951.6 809.7 1944.6 809.7Z" fill="#fefeb3"/>
<path d="M1963 817.3 1968.5 818.4 1975 829.2 1980.8 837.9 1977.1 837.9 1968.5 829.2 1964.1 822.7Z" fill="#fcb1fc"/>
<path d="M1968.5 966.7 1973.9 960.2 1979.3 962.4 1970.6 970.4Z" fill="#fec4ba"/>
<path d="M1775.8 613.4 1783.9 610.7 1790.7 628.3 1797.4 640.5 1790.7 644.6 1781.2 641.8 1774.4 620.2Z" fill="#d5fbe0"/>
<path d="M1790.7 644.6 1797.4 640.5 1801.5 650 1800.2 654Z" fill="#fcb1fc"/>
<path d="M1752.8 579.6 1759.5 578.2 1765.8 587.7 1762.3 593.1 1756.8 587.7Z" fill="#d5fbe0"/>
<path d="M1826.4 694.6 1829.9 694.1 1831.8 700.1 1828 700.9Z" fill="#fefeb3"/>
<path d="M1681 580.9 1698.6 578.2 1720.3 625.6 1714.9 628.3 1693.2 587.7 1682.4 587.7Z" fill="#fcb1fc"/>
<path d="M1700 635.1 1714.9 632.4 1720.3 641.8 1709.5 644.6Z" fill="#d5fbe0"/>
<path d="M1479.8 218 1487.9 211.2 1498.7 215.3 1496 228 1483.8 228.8Z" fill="#fcb1fc"/>
<path d="M1492.5 251.8 1496 253.2 1500.1 270.8 1505.5 278.9 1502.8 280.3 1497.4 272.2 1493.3 261.3Z" fill="#d5fbe0"/>
<path d="M1817.2 752.1 1819 755 1819.7 758.3 1819.3 761.6 1817.9 764.7 1815.6 767.1 1812.6 768.7 1809.3 769.2 1806 768.7 1803 767.1 1800.7 764.7 1799.3 761.6 1798.9 758.3 1799.6 755 1801.3 752.1" fill="none"/>
<path d="M1899.3 840.9 1898.3 843.1 1896.9 845.2 1895.2 846.9 1893.3 848.4 1891.1 849.6 1888.8 850.4 1886.4 850.8 1883.9 850.8 1881.5 850.4 1879.2 849.7 1877 848.5 1875 847.1 1873.3 845.3 1871.9 843.3" fill="none"/>
</g>
<g id="ptsG" fill="#10a310" stroke="#064d06" stroke-width="1.1">
<circle cx="1709.4" cy="555.6" r="14.6"/>
<circle cx="1656.6" cy="603" r="10.3"/>
<circle cx="1738.7" cy="655" r="9.8"/>
<circle cx="1743.2" cy="667.2" r="8.1"/>
<circle cx="1588.4" cy="443.9" r="7"/>
<circle cx="1688.3" cy="574.1" r="6.5"/>
<circle cx="1725.3" cy="645.6" r="6.2"/>
<circle cx="1653.9" cy="467.4" r="5.4"/>
<circle cx="1577.9" cy="466.9" r="4.6"/>
<circle cx="1643.6" cy="479.1" r="4.6"/>
<circle cx="1651.8" cy="456" r="4.2"/>
<circle cx="1640.1" cy="546.7" r="4.2"/>
<circle cx="1720.8" cy="632.3" r="4.2"/>
<circle cx="1607.9" cy="556.7" r="3.8"/>
<circle cx="1605.5" cy="544.9" r="3.3"/>
<circle cx="1615.2" cy="447.1" r="2.9"/>
<circle cx="1650.1" cy="594.9" r="2.9"/>
<circle cx="1666.4" cy="596.8" r="2.9"/>
<circle cx="1709.4" cy="617.3" r="2.9"/>
<circle cx="1637.1" cy="441.4" r="2.6"/>
<circle cx="1636" cy="459.3" r="2.6"/>
<circle cx="1659.1" cy="475.8" r="2.6"/>
<circle cx="1640.7" cy="610.3" r="2.6"/>
<circle cx="1688" cy="644.9" r="2.6"/>
<circle cx="1573.7" cy="385.5" r="2.6"/>
<circle cx="1597.4" cy="450.7" r="2.5"/>
<circle cx="1612.8" cy="447.9" r="2.5"/>
<circle cx="1620.9" cy="456.8" r="2.5"/>
<circle cx="1644.5" cy="444.2" r="2.5"/>
<circle cx="1650.1" cy="445" r="2.5"/>
<circle cx="1670.4" cy="434.9" r="2.5"/>
<circle cx="1674.5" cy="438.5" r="2.5"/>
<circle cx="1692.4" cy="506.4" r="2.5"/>
<circle cx="1695.6" cy="542.9" r="2.5"/>
<circle cx="1725.7" cy="556.7" r="2.5"/>
<circle cx="1726.5" cy="569.7" r="2.5"/>
<circle cx="1646.1" cy="570.2" r="2.5"/>
<circle cx="1657.5" cy="575.4" r="2.5"/>
<circle cx="1662" cy="576.2" r="2.5"/>
<circle cx="1717.1" cy="586" r="2.5"/>
<circle cx="1729.7" cy="593" r="2.5"/>
<circle cx="1713.5" cy="599" r="2.5"/>
<circle cx="1734.1" cy="613.3" r="2.5"/>
<circle cx="1724.4" cy="622.2" r="2.5"/>
<circle cx="1677.3" cy="632.6" r="2.5"/>
<circle cx="1721.6" cy="628.7" r="2.5"/>
<circle cx="1727.3" cy="664.7" r="2.5"/>
<circle cx="1729.7" cy="667.2" r="2.5"/>
<circle cx="1690.7" cy="681.5" r="2.5"/>
<circle cx="1712.3" cy="681" r="2.5"/>
<circle cx="1705" cy="688.8" r="2.5"/>
<circle cx="1700.5" cy="693.2" r="2.5"/>
<circle cx="1707" cy="698" r="2.5"/>
<circle cx="1687.8" cy="573.4" r="3.9" fill="#19ad19" stroke="#0a5f0a" stroke-width="1"/>
<circle cx="1725.8" cy="645.3" r="4.3" fill="#19ad19" stroke="#0a5f0a" stroke-width="1"/>
<circle cx="1728" cy="643.6" r="1.9" fill="#19ad19" stroke="#0a5f0a" stroke-width="1"/>
<circle cx="1721.5" cy="628.8" r="2.2" fill="#19ad19" stroke="#0a5f0a" stroke-width="1"/>
<circle cx="1650" cy="595" r="2.6" fill="#19ad19" stroke="#0a5f0a" stroke-width="1"/>
<circle cx="1709.8" cy="556" r="2.8" fill="#2d9a2d" stroke="#022a02" stroke-width="1.6"/>
<circle cx="1738.8" cy="655.3" r="2.6" fill="#2d9a2d" stroke="#022a02" stroke-width="1.6"/>
<circle cx="1666.4" cy="596.8" r="2.8" fill="#2d9a2d" stroke="#022a02" stroke-width="1.6"/>
<circle cx="1717.1" cy="585.9" r="2.4" fill="#2d9a2d" stroke="#022a02" stroke-width="1.6"/>
<circle cx="1729.3" cy="666.9" r="2.4" fill="#2d9a2d" stroke="#022a02" stroke-width="1.6"/>
<circle cx="1727.1" cy="664.8" r="2.1" fill="#2d9a2d" stroke="#022a02" stroke-width="1.6"/>
</g>
<g id="ptsC" fill="#eaf0da" stroke="#1f1f1f" stroke-width="1.05">
<circle cx="1709.1" cy="554.5" r="15.3"/>
<circle cx="1656.8" cy="601.6" r="14.6"/>
<circle cx="1740.6" cy="652.9" r="13.6"/>
<circle cx="1742.2" cy="669.8" r="11.4"/>
<circle cx="1587.9" cy="443" r="9.7"/>
<circle cx="1687.6" cy="573.3" r="9.1"/>
<circle cx="1728.2" cy="643.8" r="8.1"/>
<circle cx="1577.5" cy="466.8" r="7.1"/>
<circle cx="1652.2" cy="454.7" r="7.1"/>
<circle cx="1607.4" cy="556.1" r="7.1"/>
<circle cx="1639.9" cy="545.4" r="7.1"/>
<circle cx="1643.8" cy="478.1" r="6.5"/>
<circle cx="1688.6" cy="571.7" r="6.5"/>
<circle cx="1717.8" cy="634.1" r="6.5"/>
<circle cx="1652.9" cy="467.7" r="4.9"/>
<circle cx="1605.1" cy="544.1" r="4.9"/>
<circle cx="1661" cy="576.2" r="4.5"/>
<circle cx="1640.8" cy="609.7" r="4.5"/>
<circle cx="1687.6" cy="644.8" r="4.5"/>
<circle cx="1729.2" cy="664.9" r="4.5"/>
<circle cx="1707.1" cy="699" r="4.5"/>
<circle cx="1643.8" cy="478.1" r="4.2"/>
<circle cx="1709.1" cy="554.5" r="4.2"/>
<circle cx="1636.6" cy="440.8" r="3.9"/>
<circle cx="1614.5" cy="447.3" r="3.9"/>
<circle cx="1635" cy="458.6" r="3.9"/>
<circle cx="1658.7" cy="474.9" r="3.9"/>
<circle cx="1649.6" cy="595.1" r="3.9"/>
<circle cx="1666.5" cy="596.1" r="3.9"/>
<circle cx="1739" cy="654.2" r="3.9"/>
<circle cx="1652.2" cy="454.7" r="3.6"/>
<circle cx="1709.1" cy="617.8" r="3.2"/>
<circle cx="1607.4" cy="556.1" r="2.6"/>
<circle cx="1724.3" cy="646.4" r="2.6"/>
<circle cx="1643.8" cy="478.1" r="2.3"/>
<circle cx="1573.9" cy="385.5" r="2.3"/>
<circle cx="1692.5" cy="506.4" r="2.3"/>
<circle cx="1709.1" cy="554.5" r="2.3"/>
<circle cx="1717.8" cy="586" r="2.3"/>
<circle cx="1713" cy="599" r="2.3"/>
<circle cx="1730.2" cy="592.5" r="2.3"/>
<circle cx="1734.1" cy="612.9" r="2.3"/>
<circle cx="1723.7" cy="622" r="2.3"/>
<circle cx="1677.2" cy="632.4" r="2.3"/>
<circle cx="1729.2" cy="664.9" r="2.3"/>
<circle cx="1713" cy="680.5" r="2.3"/>
<circle cx="1635" cy="458.6" r="1.9"/>
<circle cx="1658.7" cy="474.9" r="1.9"/>
<circle cx="1670.7" cy="434.9" r="1.9"/>
<circle cx="1675" cy="436.9" r="1.9"/>
<circle cx="1620.4" cy="457" r="1.9"/>
<circle cx="1645.7" cy="569.7" r="1.9"/>
<circle cx="1695.8" cy="542.4" r="1.9"/>
<circle cx="1726" cy="556.1" r="1.9"/>
<circle cx="1726.6" cy="569.1" r="1.9"/>
<circle cx="1666.5" cy="596.1" r="1.9"/>
<circle cx="1739" cy="654.2" r="1.9"/>
<circle cx="1691.2" cy="681.2" r="1.9"/>
<circle cx="1704.9" cy="688.6" r="1.9"/>
<circle cx="1701" cy="692.5" r="1.9"/>
<circle cx="1643.1" cy="443" r="1.6"/>
<circle cx="1647" cy="444" r="1.6"/>
<circle cx="1651.2" cy="444" r="1.6"/>
</g>
</defs>
<clipPath id="clipAL"><rect x="1017" y="100" width="1300" height="1200"/></clipPath>
<clipPath id="clipBL"><rect x="1085" y="1400" width="1300" height="1100"/></clipPath>
<g clip-path="url(#clipAL)">
<g transform="translate(-282.5 189)">
<use href="#sea" fill="#f7df74"/>
<use href="#bandsA"/>
<use href="#edge" stroke="#cbb766" stroke-width="0.6"/>
<use href="#isl" fill="#fff"/>
<use href="#ptsC"/>
</g></g>
<g>
<g transform="translate(0 0)">
<use href="#land"/>
<use href="#sea" fill="#f7df74"/>
<use href="#bandsA"/>
<use href="#edge" stroke="#6e6a3c" stroke-width="0.8"/>
<use href="#isl" fill="#e6e9ea"/>
<use href="#ptsG"/>
</g></g>
<text x="1073.6" y="501.1" font-size="18.6" text-anchor="start" font-weight="normal" fill="#000" font-family='"DejaVu Sans Condensed", "DejaVu Sans", "Liberation Sans", sans-serif' textLength="83.5" lengthAdjust="spacingAndGlyphs" stroke="#000" stroke-width="0.25">IPUE (km)</text>
<circle cx="1088.8" cy="520.8" r="1.9" fill="#eaf0da" stroke="#1f1f1f" stroke-width="1.05"/>
<text x="1109.6" y="527.6" font-size="18.6" text-anchor="start" font-weight="normal" fill="#000" font-family='"DejaVu Sans Condensed", "DejaVu Sans", "Liberation Sans", sans-serif' textLength="63.5" lengthAdjust="spacingAndGlyphs" stroke="#000" stroke-width="0.25">0 - 0.06</text>
<circle cx="1088.8" cy="548.7" r="4.9" fill="#eaf0da" stroke="#1f1f1f" stroke-width="1.05"/>
<text x="1109.6" y="555.8" font-size="18.6" text-anchor="start" font-weight="normal" fill="#000" font-family='"DejaVu Sans Condensed", "DejaVu Sans", "Liberation Sans", sans-serif' textLength="90" lengthAdjust="spacingAndGlyphs" stroke="#000" stroke-width="0.25">0.06 - 0.17</text>
<circle cx="1088.8" cy="576.1" r="7.3" fill="#eaf0da" stroke="#1f1f1f" stroke-width="1.05"/>
<text x="1109.6" y="582.8" font-size="18.6" text-anchor="start" font-weight="normal" fill="#000" font-family='"DejaVu Sans Condensed", "DejaVu Sans", "Liberation Sans", sans-serif' textLength="90" lengthAdjust="spacingAndGlyphs" stroke="#000" stroke-width="0.25">0.17 - 0.34</text>
<circle cx="1088.8" cy="603.1" r="10.8" fill="#eaf0da" stroke="#1f1f1f" stroke-width="1.05"/>
<text x="1109.6" y="610.4" font-size="18.6" text-anchor="start" font-weight="normal" fill="#000" font-family='"DejaVu Sans Condensed", "DejaVu Sans", "Liberation Sans", sans-serif' textLength="90" lengthAdjust="spacingAndGlyphs" stroke="#000" stroke-width="0.25">0.34 - 0.61</text>
<circle cx="1088.8" cy="635.1" r="15.2" fill="#eaf0da" stroke="#1f1f1f" stroke-width="1.05"/>
<text x="1109.6" y="641.6" font-size="18.6" text-anchor="start" font-weight="normal" fill="#000" font-family='"DejaVu Sans Condensed", "DejaVu Sans", "Liberation Sans", sans-serif' textLength="90" lengthAdjust="spacingAndGlyphs" stroke="#000" stroke-width="0.25">0.61 - 1.46</text>
<text x="1395" y="313.8" font-size="18.6" text-anchor="start" font-weight="normal" fill="#000" font-family='"DejaVu Sans Condensed", "DejaVu Sans", "Liberation Sans", sans-serif' textLength="69" lengthAdjust="spacingAndGlyphs" stroke="#000" stroke-width="0.25">IPUE (h)</text>
<circle cx="1407.2" cy="334.6" r="2.7" fill="#10a310" stroke="#064d06" stroke-width="1.1"/>
<text x="1424.4" y="341.4" font-size="18.6" text-anchor="start" font-weight="normal" fill="#000" font-family='"DejaVu Sans Condensed", "DejaVu Sans", "Liberation Sans", sans-serif' textLength="10" lengthAdjust="spacingAndGlyphs" stroke="#000" stroke-width="0.25">1</text>
<circle cx="1407.2" cy="361.7" r="2.7" fill="#10a310" stroke="#064d06" stroke-width="1.1"/>
<text x="1424.4" y="368.4" font-size="18.6" text-anchor="start" font-weight="normal" fill="#000" font-family='"DejaVu Sans Condensed", "DejaVu Sans", "Liberation Sans", sans-serif' textLength="10" lengthAdjust="spacingAndGlyphs" stroke="#000" stroke-width="0.25">5</text>
<circle cx="1407.2" cy="388.7" r="2.7" fill="#10a310" stroke="#064d06" stroke-width="1.1"/>
<text x="1424.4" y="395.5" font-size="18.6" text-anchor="start" font-weight="normal" fill="#000" font-family='"DejaVu Sans Condensed", "DejaVu Sans", "Liberation Sans", sans-serif' textLength="20" lengthAdjust="spacingAndGlyphs" stroke="#000" stroke-width="0.25">10</text>
<circle cx="1407.2" cy="416.6" r="5.0" fill="#10a310" stroke="#064d06" stroke-width="1.1"/>
<text x="1424.4" y="423.1" font-size="18.6" text-anchor="start" font-weight="normal" fill="#000" font-family='"DejaVu Sans Condensed", "DejaVu Sans", "Liberation Sans", sans-serif' textLength="20" lengthAdjust="spacingAndGlyphs" stroke="#000" stroke-width="0.25">50</text>
<circle cx="1407.2" cy="444.3" r="8.1" fill="#10a310" stroke="#064d06" stroke-width="1.1"/>
<text x="1424.4" y="451" font-size="18.6" text-anchor="start" font-weight="normal" fill="#000" font-family='"DejaVu Sans Condensed", "DejaVu Sans", "Liberation Sans", sans-serif' textLength="30" lengthAdjust="spacingAndGlyphs" stroke="#000" stroke-width="0.25">100</text>
<g clip-path="url(#clipBL)">
<g transform="translate(-212.7 1470)">
<use href="#sea" fill="#b8d8fd"/>
<use href="#mpaB"/>
<use href="#edge" stroke="#a9c3e0" stroke-width="0.6"/>
<use href="#isl" fill="#fff"/>
<use href="#ptsC"/>
</g></g>
<g>
<g transform="translate(119.2 1302.9)">
<use href="#land"/>
<use href="#sea" fill="#b8d8fd"/>
<use href="#mpaB"/>
<use href="#edge" stroke="#5f6a7a" stroke-width="0.8"/>
<use href="#isl" fill="#e6e9ea"/>
<use href="#ptsG"/>
</g></g>
<text x="1143.4" y="1781.9" font-size="18.6" text-anchor="start" font-weight="normal" fill="#000" font-family='"DejaVu Sans Condensed", "DejaVu Sans", "Liberation Sans", sans-serif' textLength="83.5" lengthAdjust="spacingAndGlyphs" stroke="#000" stroke-width="0.25">IPUE (km)</text>
<circle cx="1158.8" cy="1801.9" r="1.9" fill="#eaf0da" stroke="#1f1f1f" stroke-width="1.05"/>
<text x="1179.9" y="1808.7" font-size="18.6" text-anchor="start" font-weight="normal" fill="#000" font-family='"DejaVu Sans Condensed", "DejaVu Sans", "Liberation Sans", sans-serif' textLength="63.5" lengthAdjust="spacingAndGlyphs" stroke="#000" stroke-width="0.25">0 - 0.06</text>
<circle cx="1158.8" cy="1829.8" r="4.9" fill="#eaf0da" stroke="#1f1f1f" stroke-width="1.05"/>
<text x="1179.9" y="1836.6" font-size="18.6" text-anchor="start" font-weight="normal" fill="#000" font-family='"DejaVu Sans Condensed", "DejaVu Sans", "Liberation Sans", sans-serif' textLength="90" lengthAdjust="spacingAndGlyphs" stroke="#000" stroke-width="0.25">0.06 - 0.17</text>
<circle cx="1158.8" cy="1856.9" r="7.3" fill="#eaf0da" stroke="#1f1f1f" stroke-width="1.05"/>
<text x="1179.9" y="1863.6" font-size="18.6" text-anchor="start" font-weight="normal" fill="#000" font-family='"DejaVu Sans Condensed", "DejaVu Sans", "Liberation Sans", sans-serif' textLength="90" lengthAdjust="spacingAndGlyphs" stroke="#000" stroke-width="0.25">0.17 - 0.34</text>
<circle cx="1158.8" cy="1884.5" r="10.8" fill="#eaf0da" stroke="#1f1f1f" stroke-width="1.05"/>
<text x="1179.9" y="1891.3" font-size="18.6" text-anchor="start" font-weight="normal" fill="#000" font-family='"DejaVu Sans Condensed", "DejaVu Sans", "Liberation Sans", sans-serif' textLength="90" lengthAdjust="spacingAndGlyphs" stroke="#000" stroke-width="0.25">0.34 - 0.61</text>
<circle cx="1158.8" cy="1915.1" r="15.2" fill="#eaf0da" stroke="#1f1f1f" stroke-width="1.05"/>
<text x="1179.9" y="1922.7" font-size="18.6" text-anchor="start" font-weight="normal" fill="#000" font-family='"DejaVu Sans Condensed", "DejaVu Sans", "Liberation Sans", sans-serif' textLength="90" lengthAdjust="spacingAndGlyphs" stroke="#000" stroke-width="0.25">0.61 - 1.46</text>
<text x="1475" y="1615.7" font-size="18.6" text-anchor="start" font-weight="normal" fill="#000" font-family='"DejaVu Sans Condensed", "DejaVu Sans", "Liberation Sans", sans-serif' textLength="69" lengthAdjust="spacingAndGlyphs" stroke="#000" stroke-width="0.25">IPUE (h)</text>
<circle cx="1487.2" cy="1636" r="2.7" fill="#10a310" stroke="#064d06" stroke-width="1.1"/>
<text x="1504.6" y="1641.9" font-size="18.6" text-anchor="start" font-weight="normal" fill="#000" font-family='"DejaVu Sans Condensed", "DejaVu Sans", "Liberation Sans", sans-serif' textLength="10" lengthAdjust="spacingAndGlyphs" stroke="#000" stroke-width="0.25">1</text>
<circle cx="1487.2" cy="1663" r="2.7" fill="#10a310" stroke="#064d06" stroke-width="1.1"/>
<text x="1504.6" y="1669.8" font-size="18.6" text-anchor="start" font-weight="normal" fill="#000" font-family='"DejaVu Sans Condensed", "DejaVu Sans", "Liberation Sans", sans-serif' textLength="10" lengthAdjust="spacingAndGlyphs" stroke="#000" stroke-width="0.25">5</text>
<circle cx="1487.2" cy="1690.1" r="2.7" fill="#10a310" stroke="#064d06" stroke-width="1.1"/>
<text x="1504.6" y="1696.9" font-size="18.6" text-anchor="start" font-weight="normal" fill="#000" font-family='"DejaVu Sans Condensed", "DejaVu Sans", "Liberation Sans", sans-serif' textLength="20" lengthAdjust="spacingAndGlyphs" stroke="#000" stroke-width="0.25">10</text>
<circle cx="1487.2" cy="1717.7" r="5.0" fill="#10a310" stroke="#064d06" stroke-width="1.1"/>
<text x="1504.6" y="1724.5" font-size="18.6" text-anchor="start" font-weight="normal" fill="#000" font-family='"DejaVu Sans Condensed", "DejaVu Sans", "Liberation Sans", sans-serif' textLength="20" lengthAdjust="spacingAndGlyphs" stroke="#000" stroke-width="0.25">50</text>
<circle cx="1487.2" cy="1745.6" r="8.1" fill="#10a310" stroke="#064d06" stroke-width="1.1"/>
<text x="1504.6" y="1752.4" font-size="18.6" text-anchor="start" font-weight="normal" fill="#000" font-family='"DejaVu Sans Condensed", "DejaVu Sans", "Liberation Sans", sans-serif' textLength="30" lengthAdjust="spacingAndGlyphs" stroke="#000" stroke-width="0.25">100</text>
<g>
<rect x="198.4" y="596.8" width="100.1" height="254.9" fill="#66C2A5"/>
<rect x="365.3" y="698.8" width="100.1" height="152.9" fill="#FC8D62"/>
<path d="M231.8 530.7H265.2M231.8 662.8H265.2M248.5 530.7V662.8" stroke="#0a0a0a" stroke-width="2.3" fill="none"/>
<path d="M398.6 662.8H432M398.6 735H432M415.3 662.8V735" stroke="#0a0a0a" stroke-width="2.3" fill="none"/>
<rect x="150.2" y="421.2" width="363.5" height="57.6" fill="#e6e6e6" stroke="#0d0d0d" stroke-width="3.5"/>
<text x="332.9" y="461.1" font-size="31.1" text-anchor="middle" font-weight="bold" fill="#1a1a1a" font-family='"Liberation Sans", Arial, Helvetica, sans-serif'>IPUE per Hour</text>
<path d="M148.4 480.6V869.3H515.4" stroke="#0d0d0d" stroke-width="3.5" fill="none" stroke-linejoin="miter"/>
<path d="M139.1 851.7H146.7" stroke="#333" stroke-width="2.9"/>
<text x="131.5" y="862.6" font-size="30.5" text-anchor="end" font-weight="normal" fill="#4d4d4d" font-family='"Liberation Sans", Arial, Helvetica, sans-serif'>0</text>
<path d="M139.1 740.9H146.7" stroke="#333" stroke-width="2.9"/>
<text x="131.5" y="751.8" font-size="30.5" text-anchor="end" font-weight="normal" fill="#4d4d4d" font-family='"Liberation Sans", Arial, Helvetica, sans-serif'>10</text>
<path d="M139.1 630.7H146.7" stroke="#333" stroke-width="2.9"/>
<text x="131.5" y="641.6" font-size="30.5" text-anchor="end" font-weight="normal" fill="#4d4d4d" font-family='"Liberation Sans", Arial, Helvetica, sans-serif'>20</text>
<path d="M139.1 519.6H146.7" stroke="#333" stroke-width="2.9"/>
<text x="131.5" y="530.5" font-size="30.5" text-anchor="end" font-weight="normal" fill="#4d4d4d" font-family='"Liberation Sans", Arial, Helvetica, sans-serif'>30</text>
<path d="M248.5 871V878.6" stroke="#333" stroke-width="2.9"/>
<text x="248.5" y="907.5" font-size="30.5" text-anchor="middle" font-weight="normal" fill="#4d4d4d" font-family='"Liberation Sans", Arial, Helvetica, sans-serif'>National</text>
<path d="M415.3 871V878.6" stroke="#333" stroke-width="2.9"/>
<text x="415.3" y="907.5" font-size="30.5" text-anchor="middle" font-weight="normal" fill="#4d4d4d" font-family='"Liberation Sans", Arial, Helvetica, sans-serif'>Provincial</text>
</g>
<g>
<rect x="664.8" y="599.2" width="100" height="252.5" fill="#66C2A5"/>
<rect x="831.5" y="695" width="100" height="156.7" fill="#FC8D62"/>
<path d="M698.2 530.5H731.5M698.2 667.5H731.5M714.8 530.5V667.5" stroke="#0a0a0a" stroke-width="2.3" fill="none"/>
<path d="M864.9 657.2H898.2M864.9 732.4H898.2M881.6 657.2V732.4" stroke="#0a0a0a" stroke-width="2.3" fill="none"/>
<rect x="616.5" y="421.2" width="363.3" height="57.6" fill="#e6e6e6" stroke="#0d0d0d" stroke-width="3.5"/>
<text x="799.2" y="461.1" font-size="31.1" text-anchor="middle" font-weight="bold" fill="#1a1a1a" font-family='"Liberation Sans", Arial, Helvetica, sans-serif'>IPUE per Kilometer</text>
<path d="M614.8 480.6V869.3H981.6" stroke="#0d0d0d" stroke-width="3.5" fill="none" stroke-linejoin="miter"/>
<path d="M605.4 851.7H613" stroke="#333" stroke-width="2.9"/>
<text x="597.8" y="862.6" font-size="30.5" text-anchor="end" font-weight="normal" fill="#4d4d4d" font-family='"Liberation Sans", Arial, Helvetica, sans-serif'>0.00</text>
<path d="M605.4 758.6H613" stroke="#333" stroke-width="2.9"/>
<text x="597.8" y="769.5" font-size="30.5" text-anchor="end" font-weight="normal" fill="#4d4d4d" font-family='"Liberation Sans", Arial, Helvetica, sans-serif'>0.05</text>
<path d="M605.4 665.8H613" stroke="#333" stroke-width="2.9"/>
<text x="597.8" y="676.7" font-size="30.5" text-anchor="end" font-weight="normal" fill="#4d4d4d" font-family='"Liberation Sans", Arial, Helvetica, sans-serif'>0.10</text>
<path d="M605.4 572.7H613" stroke="#333" stroke-width="2.9"/>
<text x="597.8" y="583.6" font-size="30.5" text-anchor="end" font-weight="normal" fill="#4d4d4d" font-family='"Liberation Sans", Arial, Helvetica, sans-serif'>0.15</text>
<path d="M714.8 871V878.6" stroke="#333" stroke-width="2.9"/>
<text x="714.8" y="907.5" font-size="30.5" text-anchor="middle" font-weight="normal" fill="#4d4d4d" font-family='"Liberation Sans", Arial, Helvetica, sans-serif'>National</text>
<path d="M881.6 871V878.6" stroke="#333" stroke-width="2.9"/>
<text x="881.6" y="907.5" font-size="30.5" text-anchor="middle" font-weight="normal" fill="#4d4d4d" font-family='"Liberation Sans", Arial, Helvetica, sans-serif'>Provincial</text>
</g>
<text transform="translate(60 674.4) rotate(-90)" font-size="39.5" text-anchor="middle" fill="#000" font-family='"Liberation Sans", Arial, Helvetica, sans-serif'>Mean ± SE</text>
<text x="565" y="955" font-size="38.2" text-anchor="middle" font-weight="normal" fill="#000" font-family='"Liberation Sans", Arial, Helvetica, sans-serif'>Juridiction</text>
<g>
<rect x="216.8" y="1945.9" width="44.7" height="220.6" fill="#66C2A5"/>
<rect x="291.3" y="1996.9" width="44.7" height="169.6" fill="#FC8D62"/>
<rect x="365.8" y="2005.7" width="44.7" height="160.8" fill="#8DA0CB"/>
<rect x="440.2" y="2090.5" width="44.7" height="76" fill="#E78AC3"/>
<rect x="514.7" y="2048.6" width="44.7" height="117.9" fill="#A6D854"/>
<path d="M231.7 1813.4H246.6M231.7 2078.1H246.6M239.2 1813.4V2078.1" stroke="#0a0a0a" stroke-width="2.3" fill="none"/>
<path d="M306.2 1846.5H321.1M306.2 2147.3H321.1M313.6 1846.5V2147.3" stroke="#0a0a0a" stroke-width="2.3" fill="none"/>
<path d="M380.7 1933.2H395.5M380.7 2077.5H395.5M388.1 1933.2V2077.5" stroke="#0a0a0a" stroke-width="2.3" fill="none"/>
<path d="M455.1 2051.2H470M455.1 2129.8H470M462.6 2051.2V2129.8" stroke="#0a0a0a" stroke-width="2.3" fill="none"/>
<path d="M529.6 2023.2H544.5M529.6 2073.6H544.5M537 2023.2V2073.6" stroke="#0a0a0a" stroke-width="2.3" fill="none"/>
<rect x="196.3" y="1733.4" width="383.5" height="60" fill="#e6e6e6" stroke="#0d0d0d" stroke-width="3.7"/>
<text x="389.1" y="1775.1" font-size="32.8" text-anchor="middle" font-weight="bold" fill="#1a1a1a" font-family='"Liberation Sans", Arial, Helvetica, sans-serif'>IPUE per Hour</text>
<path d="M194.5 1795.3V2184H581.7" stroke="#0d0d0d" stroke-width="3.7" fill="none" stroke-linejoin="miter"/>
<path d="M184.6 2166.5H192.7" stroke="#333" stroke-width="2.9"/>
<text x="176.5" y="2178.1" font-size="32.4" text-anchor="end" font-weight="normal" fill="#4d4d4d" font-family='"Liberation Sans", Arial, Helvetica, sans-serif'>0</text>
<path d="M184.6 2096.6H192.7" stroke="#333" stroke-width="2.9"/>
<text x="176.5" y="2108.2" font-size="32.4" text-anchor="end" font-weight="normal" fill="#4d4d4d" font-family='"Liberation Sans", Arial, Helvetica, sans-serif'>10</text>
<path d="M184.6 2026.8H192.7" stroke="#333" stroke-width="2.9"/>
<text x="176.5" y="2038.4" font-size="32.4" text-anchor="end" font-weight="normal" fill="#4d4d4d" font-family='"Liberation Sans", Arial, Helvetica, sans-serif'>20</text>
<path d="M184.6 1957.3H192.7" stroke="#333" stroke-width="2.9"/>
<text x="176.5" y="1968.9" font-size="32.4" text-anchor="end" font-weight="normal" fill="#4d4d4d" font-family='"Liberation Sans", Arial, Helvetica, sans-serif'>30</text>
<path d="M184.6 1887.4H192.7" stroke="#333" stroke-width="2.9"/>
<text x="176.5" y="1899" font-size="32.4" text-anchor="end" font-weight="normal" fill="#4d4d4d" font-family='"Liberation Sans", Arial, Helvetica, sans-serif'>40</text>
<path d="M184.6 1817.6H192.7" stroke="#333" stroke-width="2.9"/>
<text x="176.5" y="1829.2" font-size="32.4" text-anchor="end" font-weight="normal" fill="#4d4d4d" font-family='"Liberation Sans", Arial, Helvetica, sans-serif'>50</text>
<path d="M239.2 2185.8V2193.9" stroke="#333" stroke-width="2.9"/>
<text transform="translate(255.2 2220) rotate(-45)" font-size="32.6" text-anchor="end" fill="#4d4d4d" word-spacing="1.2" font-family='"Liberation Sans", Arial, Helvetica, sans-serif'>Designated</text>
<path d="M313.6 2185.8V2193.9" stroke="#333" stroke-width="2.9"/>
<text transform="translate(329.6 2220) rotate(-45)" font-size="32.6" text-anchor="end" fill="#4d4d4d" word-spacing="1.2" font-family='"Liberation Sans", Arial, Helvetica, sans-serif'>Established</text>
<path d="M388.1 2185.8V2193.9" stroke="#333" stroke-width="2.9"/>
<text transform="translate(404.1 2220) rotate(-45)" font-size="32.6" text-anchor="end" fill="#4d4d4d" word-spacing="1.2" font-family='"Liberation Sans", Arial, Helvetica, sans-serif'>MPA AOI Extension</text>
<path d="M462.6 2185.8V2193.9" stroke="#333" stroke-width="2.9"/>
<text transform="translate(478.6 2220) rotate(-45)" font-size="32.6" text-anchor="end" fill="#4d4d4d" word-spacing="1.2" font-family='"Liberation Sans", Arial, Helvetica, sans-serif'>MPA AOI New</text>
<path d="M537 2185.8V2193.9" stroke="#333" stroke-width="2.9"/>
<text transform="translate(553 2220) rotate(-45)" font-size="32.6" text-anchor="end" fill="#4d4d4d" word-spacing="1.2" font-family='"Liberation Sans", Arial, Helvetica, sans-serif'>Non−MPA</text>
</g>
<g>
<rect x="688.9" y="1962.3" width="44.7" height="204.2" fill="#66C2A5"/>
<rect x="763.4" y="1980.2" width="44.7" height="186.3" fill="#FC8D62"/>
<rect x="837.9" y="2022.5" width="44.7" height="144" fill="#8DA0CB"/>
<rect x="912.3" y="2088.6" width="44.7" height="77.9" fill="#E78AC3"/>
<rect x="986.8" y="2042.1" width="44.7" height="124.4" fill="#A6D854"/>
<path d="M703.8 1841.4H718.7M703.8 2082H718.7M711.3 1841.4V2082" stroke="#0a0a0a" stroke-width="2.3" fill="none"/>
<path d="M778.3 1813.4H793.2M778.3 2145.7H793.2M785.7 1813.4V2145.7" stroke="#0a0a0a" stroke-width="2.3" fill="none"/>
<path d="M852.8 1959.3H867.6M852.8 2084.4H867.6M860.2 1959.3V2084.4" stroke="#0a0a0a" stroke-width="2.3" fill="none"/>
<path d="M927.2 2049.3H942.1M927.2 2127.3H942.1M934.7 2049.3V2127.3" stroke="#0a0a0a" stroke-width="2.3" fill="none"/>
<path d="M1001.7 2014.1H1016.6M1001.7 2068.9H1016.6M1009.1 2014.1V2068.9" stroke="#0a0a0a" stroke-width="2.3" fill="none"/>
<rect x="668.5" y="1733.4" width="383.5" height="60" fill="#e6e6e6" stroke="#0d0d0d" stroke-width="3.7"/>
<text x="861.2" y="1775.1" font-size="32.8" text-anchor="middle" font-weight="bold" fill="#1a1a1a" font-family='"Liberation Sans", Arial, Helvetica, sans-serif'>IPUE per Kilometer</text>
<path d="M666.6 1795.3V2184H1053.8" stroke="#0d0d0d" stroke-width="3.7" fill="none" stroke-linejoin="miter"/>
<path d="M656.6 2166.5H664.8" stroke="#333" stroke-width="2.9"/>
<text x="648.5" y="2178.1" font-size="32.4" text-anchor="end" font-weight="normal" fill="#4d4d4d" font-family='"Liberation Sans", Arial, Helvetica, sans-serif'>0.0</text>
<path d="M656.6 2046.3H664.8" stroke="#333" stroke-width="2.9"/>
<text x="648.5" y="2057.9" font-size="32.4" text-anchor="end" font-weight="normal" fill="#4d4d4d" font-family='"Liberation Sans", Arial, Helvetica, sans-serif'>0.1</text>
<path d="M656.6 1926H664.8" stroke="#333" stroke-width="2.9"/>
<text x="648.5" y="1937.6" font-size="32.4" text-anchor="end" font-weight="normal" fill="#4d4d4d" font-family='"Liberation Sans", Arial, Helvetica, sans-serif'>0.2</text>
<path d="M656.6 1805.7H664.8" stroke="#333" stroke-width="2.9"/>
<text x="648.5" y="1817.3" font-size="32.4" text-anchor="end" font-weight="normal" fill="#4d4d4d" font-family='"Liberation Sans", Arial, Helvetica, sans-serif'>0.3</text>
<path d="M711.3 2185.8V2193.9" stroke="#333" stroke-width="2.9"/>
<text transform="translate(727.3 2220) rotate(-45)" font-size="32.6" text-anchor="end" fill="#4d4d4d" word-spacing="1.2" font-family='"Liberation Sans", Arial, Helvetica, sans-serif'>Designated</text>
<path d="M785.7 2185.8V2193.9" stroke="#333" stroke-width="2.9"/>
<text transform="translate(801.7 2220) rotate(-45)" font-size="32.6" text-anchor="end" fill="#4d4d4d" word-spacing="1.2" font-family='"Liberation Sans", Arial, Helvetica, sans-serif'>Established</text>
<path d="M860.2 2185.8V2193.9" stroke="#333" stroke-width="2.9"/>
<text transform="translate(876.2 2220) rotate(-45)" font-size="32.6" text-anchor="end" fill="#4d4d4d" word-spacing="1.2" font-family='"Liberation Sans", Arial, Helvetica, sans-serif'>MPA AOI Extension</text>
<path d="M934.7 2185.8V2193.9" stroke="#333" stroke-width="2.9"/>
<text transform="translate(950.7 2220) rotate(-45)" font-size="32.6" text-anchor="end" fill="#4d4d4d" word-spacing="1.2" font-family='"Liberation Sans", Arial, Helvetica, sans-serif'>MPA AOI New</text>
<path d="M1009.1 2185.8V2193.9" stroke="#333" stroke-width="2.9"/>
<text transform="translate(1025.1 2220) rotate(-45)" font-size="32.6" text-anchor="end" fill="#4d4d4d" word-spacing="1.2" font-family='"Liberation Sans", Arial, Helvetica, sans-serif'>Non−MPA</text>
</g>
<text transform="translate(83 1989.3) rotate(-90)" font-size="41.2" text-anchor="middle" fill="#000" font-family='"Liberation Sans", Arial, Helvetica, sans-serif'>Mean ± SE</text>
<text x="625" y="2471.2" font-size="40.2" text-anchor="middle" font-weight="normal" fill="#000" font-family='"Liberation Sans", Arial, Helvetica, sans-serif'>MPA</text>
<text x="1945.5" y="124" font-size="36" text-anchor="start" font-weight="normal" fill="#000" font-family='"Liberation Sans", Arial, Helvetica, sans-serif'>Jurisdictions</text>
<rect x="1945.6" y="145.6" width="52.5" height="25.4" fill="#98583f" stroke="#7d7d7d" stroke-width="1.2"/>
<text x="2011" y="166.9" font-size="24.5" text-anchor="start" font-weight="normal" fill="#000" font-family='"Liberation Sans", Arial, Helvetica, sans-serif'>Aceh</text>
<rect x="1945.6" y="184.7" width="52.5" height="25.4" fill="#5af67c" stroke="#7d7d7d" stroke-width="1.2"/>
<text x="2011" y="206" font-size="24.5" text-anchor="start" font-weight="normal" fill="#000" font-family='"Liberation Sans", Arial, Helvetica, sans-serif'>Banten</text>
<rect x="1945.6" y="223.8" width="52.5" height="25.4" fill="#a95bfb" stroke="#7d7d7d" stroke-width="1.2"/>
<text x="2011" y="245.1" font-size="24.5" text-anchor="start" font-weight="normal" fill="#000" font-family='"Liberation Sans", Arial, Helvetica, sans-serif'>Bengkulu</text>
<rect x="1945.6" y="262.9" width="52.5" height="25.4" fill="#66ccf6" stroke="#7d7d7d" stroke-width="1.2"/>
<text x="2011" y="284.2" font-size="24.5" text-anchor="start" font-weight="normal" fill="#000" font-family='"Liberation Sans", Arial, Helvetica, sans-serif'>Lampung</text>
<rect x="1945.6" y="302" width="52.5" height="25.4" fill="#f7de72" stroke="#7d7d7d" stroke-width="1.2"/>
<text x="2011" y="323.3" font-size="24.5" text-anchor="start" font-weight="normal" fill="#000" font-family='"Liberation Sans", Arial, Helvetica, sans-serif'>National</text>
<rect x="1945.6" y="341.1" width="52.5" height="25.4" fill="#ff8dc9" stroke="#7d7d7d" stroke-width="1.2"/>
<text x="2011" y="362.4" font-size="24.5" text-anchor="start" font-weight="normal" fill="#000" font-family='"Liberation Sans", Arial, Helvetica, sans-serif'>West Sumatra</text>
<rect x="1945.6" y="380.2" width="52.5" height="25.4" fill="#5b4b8f" stroke="#7d7d7d" stroke-width="1.2"/>
<text x="2011" y="401.5" font-size="24.5" text-anchor="start" font-weight="normal" fill="#000" font-family='"Liberation Sans", Arial, Helvetica, sans-serif'>North Sumatra</text>
<text x="2034.6" y="1462.5" font-size="27" text-anchor="start" font-weight="normal" fill="#000" font-family='"DejaVu Sans Condensed", "DejaVu Sans", "Liberation Sans", sans-serif' textLength="138" lengthAdjust="spacingAndGlyphs" stroke="#000" stroke-width="0.35">MPA Status</text>
<rect x="2035" y="1483.6" width="46.5" height="22.2" fill="#d5fbe0" stroke="#8a8a8a" stroke-width="1.2"/>
<text x="2092" y="1506.2" font-size="27" text-anchor="start" font-weight="normal" fill="#000" font-family='"DejaVu Sans Condensed", "DejaVu Sans", "Liberation Sans", sans-serif' textLength="136.7" lengthAdjust="spacingAndGlyphs" stroke="#000" stroke-width="0.35">Established</text>
<rect x="2035" y="1543.8" width="46.5" height="22.2" fill="#fcb1fc" stroke="#8a8a8a" stroke-width="1.2"/>
<text x="2092" y="1549.6" font-size="27" text-anchor="start" font-weight="normal" fill="#000" font-family='"DejaVu Sans Condensed", "DejaVu Sans", "Liberation Sans", sans-serif' textLength="108" lengthAdjust="spacingAndGlyphs" stroke="#000" stroke-width="0.35">MPA AOI</text>
<text x="2092" y="1583" font-size="27" text-anchor="start" font-weight="normal" fill="#000" font-family='"DejaVu Sans Condensed", "DejaVu Sans", "Liberation Sans", sans-serif' textLength="117.5" lengthAdjust="spacingAndGlyphs" stroke="#000" stroke-width="0.35">Extension</text>
<rect x="2035" y="1604.1" width="46.5" height="22.2" fill="#fec4ba" stroke="#8a8a8a" stroke-width="1.2"/>
<text x="2092" y="1626.8" font-size="27" text-anchor="start" font-weight="normal" fill="#000" font-family='"DejaVu Sans Condensed", "DejaVu Sans", "Liberation Sans", sans-serif' textLength="170.2" lengthAdjust="spacingAndGlyphs" stroke="#000" stroke-width="0.35">MPA AOI New</text>
<rect x="2035" y="1647.9" width="46.5" height="22.2" fill="#b8d8fd" stroke="#8a8a8a" stroke-width="1.2"/>
<text x="2092" y="1670.5" font-size="27" text-anchor="start" font-weight="normal" fill="#000" font-family='"DejaVu Sans Condensed", "DejaVu Sans", "Liberation Sans", sans-serif' textLength="112" lengthAdjust="spacingAndGlyphs" stroke="#000" stroke-width="0.35">Non-MPA</text>
<rect x="2035" y="1691.6" width="46.5" height="22.2" fill="#fefeb3" stroke="#8a8a8a" stroke-width="1.2"/>
<text x="2092" y="1713.7" font-size="27" text-anchor="start" font-weight="normal" fill="#000" font-family='"DejaVu Sans Condensed", "DejaVu Sans", "Liberation Sans", sans-serif' textLength="136.3" lengthAdjust="spacingAndGlyphs" stroke="#000" stroke-width="0.35">Designated</text>
</svg></body></html>
